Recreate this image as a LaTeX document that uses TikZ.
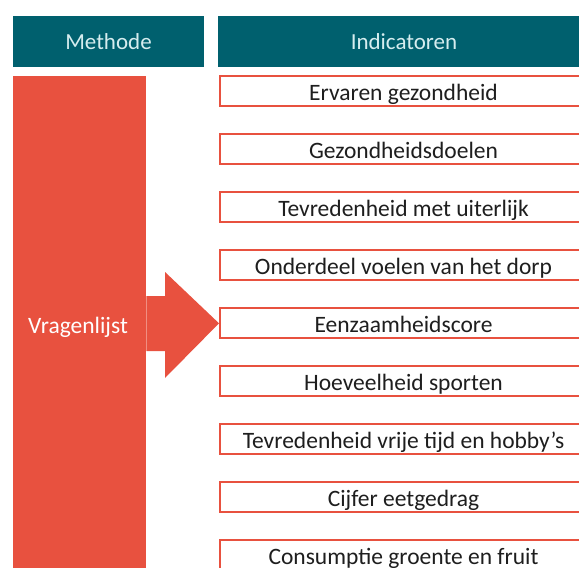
\documentclass[tikz,border=0pt]{standalone}
\usepackage{fontspec}
\setmainfont{Carlito}
\definecolor{teal}{HTML}{00606E}
\definecolor{hdrtxt}{HTML}{D6EDEF}
\definecolor{redfill}{HTML}{E8513F}
\definecolor{txt}{HTML}{1E1E1E}
\begin{document}
\begin{tikzpicture}[x=1pt,y=-1pt,
  header/.style={fill=teal,text=hdrtxt,inner sep=0pt,text height=21pt,text depth=5pt,font=\fontsize{23}{26}\selectfont},
  indbox/.style={draw=redfill,line width=2pt,fill=white,text=txt,minimum width=368pt,minimum height=30pt,inner sep=0pt,text height=22.4pt,text depth=5pt,font=\fontsize{23.5}{26}\selectfont},
  colbox/.style={fill=redfill,text=white,inner sep=0pt,font=\fontsize{23.5}{26}\selectfont}]
\useasboundingbox (0,0) rectangle (579,568);
\clip (0,0) rectangle (579,568);
\node[header,minimum width=191pt,minimum height=51pt] (methode) at (108.5,41) {Methode};
\node[header,minimum width=372pt,minimum height=51pt] (indic) at (404,41) {Indicatoren};
\node[colbox,minimum width=133pt,minimum height=500pt,anchor=north west] (col) at (13,76) {};
\node[text=white,font=\fontsize{23.5}{26}\selectfont,inner sep=0pt,anchor=base] (vrag) at (78,333) {Vragenlijst};
\foreach \i/\t in {0/Ervaren gezondheid,1/Gezondheidsdoelen,2/Tevredenheid met uiterlijk,3/Onderdeel voelen van het dorp,4/Eenzaamheidscore,5/Hoeveelheid sporten,6/Tevredenheid vrije tijd en hobby’s,7/Cijfer eetgedrag,8/Consumptie groente en fruit}{
  \node[indbox,anchor=west] (b\i) at (219,91.3+58*\i) {\hspace*{-1pt}\t};
}
\fill[redfill] (col.east |- 0,296) -- (165,296) -- (165,272) -- (b4.west) -- (165,378) -- (165,351) -- (col.east |- 0,351) -- cycle;
\end{tikzpicture}
\end{document}
